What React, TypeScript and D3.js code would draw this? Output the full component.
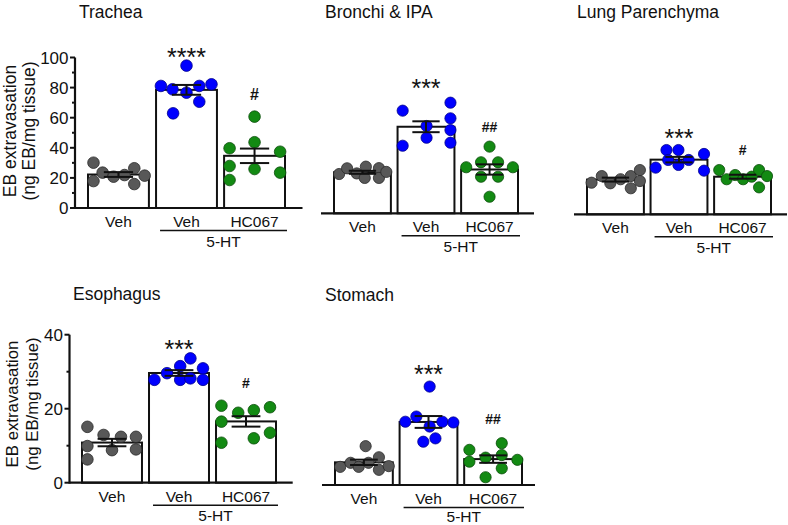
import React from "react";
import * as d3 from "d3";

// ---------- DATA ----------
const groups = ["Veh", "5-HT Veh", "5-HT HC067"];
const groupLabels = ["Veh", "Veh", "HC067"];
const bracketLabel = "5-HT";
const yTitleLine1 = "EB extravasation";
const yTitleLine2 = "(ng EB/mg tissue)";

const panelTitles = ["Trachea", "Bronchi & IPA", "Lung Parenchyma", "Esophagus", "Stomach"];
const starLabels = ["****", "***", "***", "***", "***"];
const hashLabels = ["#", "##", "#", "#", "##"];

const tracheaTicks = [0, 20, 40, 60, 80, 100];
const esophagusTicks = [0, 20, 40];

// Trachea
const tracheaVeh = [30.1, 17.9, 23.5, 20.8, 21.9, 26.4, 15.9, 21.5];
const tracheaVehJit = [-0.41, -0.41, -0.26, -0.08, 0.1, 0.26, 0.26, 0.43];
const trachea5HT = [81.1, 78.9, 62.9, 94.6, 76.6, 81.1, 70.6, 82.2];
const trachea5HTJit = [-0.42, -0.23, -0.22, 0, 0, 0.21, 0.21, 0.41];
const tracheaHC = [39.7, 27.9, 18.6, 60.7, 43.7, 25.9, 37.4, 23.5];
const tracheaHCJit = [-0.41, -0.41, -0.41, 0, 0, 0, 0.42, 0.42];

// Bronchi & IPA
const bronchiVeh = [26.1, 29.9, 26.5, 23.5, 31, 30, 23.5, 27.5];
const bronchiVehJit = [-0.41, -0.27, -0.1, 0.04, 0.06, 0.29, 0.29, 0.42];
const bronchi5HT = [68.2, 44.9, 58, 50.2, 73.5, 63.1, 55.3, 46.9];
const bronchi5HTJit = [-0.41, -0.41, 0.01, 0.01, 0.43, 0.43, 0.43, 0.43];
const bronchiHC = [30.6, 44.3, 33.9, 33.9, 24.3, 24.3, 30.6, 11];
const bronchiHCJit = [-0.41, 0, -0.15, 0.15, -0.15, 0.15, 0.41, 0];

// Lung Parenchyma
const lungVeh = [21, 25.4, 20.6, 23.3, 25.4, 17.3, 29.4, 22.1];
const lungVehJit = [-0.42, -0.24, -0.09, 0.09, 0.27, 0.27, 0.43, 0.43];
const lung5HT = [31, 42.7, 36.1, 42.7, 32.8, 36.1, 40.1, 29];
const lung5HTJit = [-0.41, -0.22, -0.19, -0.01, -0.01, 0.17, 0.44, 0.44];
const lungHC = [29.4, 23.3, 26.1, 23.3, 25, 29.4, 17.9, 25.4];
const lungHCJit = [-0.41, -0.28, -0.13, 0.01, 0.16, 0.29, 0.29, 0.43];

// Esophagus
const esoVeh = [15.1, 9.9, 6.3, 12.9, 8.8, 12.4, 12.4, 9];
const esoVehJit = [-0.41, -0.41, -0.41, -0.14, 0, 0.15, 0.4, 0.4];
const eso5HT = [27.8, 29.6, 31.5, 27.8, 33.6, 28.2, 30.9, 27.8];
const eso5HTJit = [-0.41, -0.2, 0.02, 0.02, 0.19, 0.19, 0.4, 0.4];
const esoHC = [20.8, 16.5, 10.8, 18.9, 19.6, 12, 20.4, 13.5];
const esoHCJit = [-0.41, -0.41, -0.41, -0.13, 0.13, 0.13, 0.4, 0.4];

// Stomach
const stomachVeh = [4.9, 6, 4.9, 10.5, 6, 7.5, 4.1, 5.1];
const stomachVehJit = [-0.41, -0.23, -0.09, 0.03, 0.08, 0.26, 0.26, 0.43];
const stomach5HT = [17.1, 18.5, 11.7, 26.6, 15.8, 12.6, 17.1, 16.9];
const stomach5HTJit = [-0.4, -0.21, -0.09, 0.02, 0.02, 0.12, 0.24, 0.43];
const stomachHC = [9.5, 6.3, 7.4, 2.1, 11.3, 8.1, 4.5, 6.8];
const stomachHCJit = [-0.41, -0.41, -0.13, -0.13, 0.15, 0.15, 0.15, 0.42];

const panelValues = [
  [tracheaVeh, trachea5HT, tracheaHC],
  [bronchiVeh, bronchi5HT, bronchiHC],
  [lungVeh, lung5HT, lungHC],
  [esoVeh, eso5HT, esoHC],
  [stomachVeh, stomach5HT, stomachHC],
];
const panelJitter = [
  [tracheaVehJit, trachea5HTJit, tracheaHCJit],
  [bronchiVehJit, bronchi5HTJit, bronchiHCJit],
  [lungVehJit, lung5HTJit, lungHCJit],
  [esoVehJit, eso5HTJit, esoHCJit],
  [stomachVehJit, stomach5HTJit, stomachHCJit],
];

// ---------- LAYOUT / STYLE ----------
const FONT = "Arial, 'Liberation Sans', Helvetica, sans-serif";
const dotFill = ["#585858", "#0000ff", "#138a13"];
const dotStroke = ["#2a2a2a", "#00008a", "#0a4d0a"];

type Layout = {
  yMax: number; base: number; top: number;
  bars: [number, number]; line: [number, number];
  yAxis: boolean; ticks?: number[]; minorStep?: number;
  title: [number, number]; starTop: number; hashTop: number; hashFs: number;
  yt?: { x1: number; x2: number; cy: number; fs: number };
  r: number;
};

const layouts: Layout[] = [
  { yMax: 100, base: 208, top: 57.5, bars: [88, 285], line: [75, 302.5], yAxis: true, ticks: tracheaTicks, minorStep: 10,
    title: [79, 17.5], starTop: 48, hashTop: 88, hashFs: 16, yt: { x1: 15.5, x2: 34.5, cy: 131, fs: 17.5 }, r: 5.8 },
  { yMax: 100, base: 213.3, top: 62.8, bars: [334, 518], line: [321, 534], yAxis: false,
    title: [325, 17.5], starTop: 79, hashTop: 122, hashFs: 14, r: 5.6 },
  { yMax: 100, base: 214.3, top: 63.8, bars: [587, 771], line: [574, 787], yAxis: false,
    title: [577, 17.5], starTop: 129, hashTop: 145, hashFs: 14, r: 5.6 },
  { yMax: 40, base: 482.7, top: 334.7, bars: [82, 276], line: [69.5, 292.7], yAxis: true, ticks: esophagusTicks, minorStep: 10,
    title: [73, 299.5], starTop: 340, hashTop: 378, hashFs: 14, yt: { x1: 18, x2: 37.5, cy: 404, fs: 16.8 }, r: 5.8 },
  { yMax: 40, base: 485, top: 337, bars: [335, 522], line: [322, 535], yAxis: false,
    title: [325, 301], starTop: 365, hashTop: 414, hashFs: 14, r: 5.6 },
];

function Panel({ idx }: { idx: number }) {
  const L = layouts[idx];
  const values = panelValues[idx];
  const jit = panelJitter[idx];
  const y = d3.scaleLinear().domain([0, L.yMax]).range([L.base, L.top]);
  const x = d3.scaleBand<string>().domain(groups).range(L.bars).paddingInner(0.105).paddingOuter(0);
  const bw = x.bandwidth();
  const cx = (g: string) => (x(g) as number) + bw / 2;
  const stats = values.map((v) => {
    const m = d3.mean(v) as number;
    const sem = (d3.deviation(v) as number) / Math.sqrt(v.length);
    return { m, sem };
  });
  const minorTicks = L.minorStep ? d3.range(L.minorStep, L.yMax, L.minorStep * 2) : [];
  const capHalf = bw * 0.24;
  const labFs = 15.5;
  const ulX1 = (x(groups[1]) as number) + 4;
  const ulX2 = (x(groups[2]) as number) + bw + 2;
  const htY = Math.min(L.base + 38.5, 521.5);

  return (
    <g>
      <text x={L.title[0]} y={L.title[1]} fontSize={17.5} fontFamily={FONT} fill="#111">{panelTitles[idx]}</text>

      {L.yAxis && L.yt && (
        <g fontFamily={FONT} fontSize={L.yt.fs} fill="#111" textAnchor="middle">
          <text transform={`translate(${L.yt.x1},${L.yt.cy}) rotate(-90)`}>{yTitleLine1}</text>
          <text transform={`translate(${L.yt.x2},${L.yt.cy}) rotate(-90)`}>{yTitleLine2}</text>
        </g>
      )}

      {/* bars */}
      {groups.map((g, i) => (
        <rect key={g} x={x(g)} y={y(stats[i].m)} width={bw} height={L.base - y(stats[i].m)}
          fill="#fff" stroke="#111" strokeWidth={2} />
      ))}

      {/* dots */}
      {groups.map((g, i) =>
        values[i].map((v, k) => (
          <circle key={g + k} cx={cx(g) + jit[i][k] * bw} cy={y(v)} r={L.r}
            fill={dotFill[i]} stroke={dotStroke[i]} strokeWidth={0.8} />
        ))
      )}

      {/* error bars */}
      {groups.map((g, i) => {
        const c = cx(g);
        const hi = y(stats[i].m + stats[i].sem);
        const lo = y(stats[i].m - stats[i].sem);
        return (
          <g key={"e" + g} stroke="#111" strokeWidth={2}>
            <line x1={c} x2={c} y1={hi} y2={lo} />
            <line x1={c - capHalf} x2={c + capHalf} y1={hi} y2={hi} />
            <line x1={c - capHalf} x2={c + capHalf} y1={lo} y2={lo} />
          </g>
        );
      })}

      {/* x axis line */}
      <line x1={L.line[0]} x2={L.line[1]} y1={L.base} y2={L.base} stroke="#111" strokeWidth={2.2} />

      {/* y axis */}
      {L.yAxis && L.ticks && (
        <g>
          <line x1={L.line[0]} x2={L.line[0]} y1={L.base + 1} y2={y(L.yMax)} stroke="#111" strokeWidth={2.2} />
          {L.ticks.map((t) => (
            <g key={t}>
              <line x1={L.line[0] - 5} x2={L.line[0]} y1={y(t)} y2={y(t)} stroke="#111" strokeWidth={2} />
              <text x={L.line[0] - 6.5} y={y(t)} dy="0.36em" textAnchor="end" fontSize={17} fontFamily={FONT} fill="#111">{t}</text>
            </g>
          ))}
          {minorTicks.map((t) => (
            <line key={"m" + t} x1={L.line[0] - 3} x2={L.line[0]} y1={y(t)} y2={y(t)} stroke="#111" strokeWidth={2} />
          ))}
        </g>
      )}

      {/* group labels */}
      {groups.map((g, i) => (
        <text key={"l" + g} x={cx(g)} y={L.base + 19} textAnchor="middle" fontSize={labFs} fontFamily={FONT} fill="#111">{groupLabels[i]}</text>
      ))}
      <line x1={ulX1} x2={ulX2} y1={L.base + 22.5} y2={L.base + 22.5} stroke="#111" strokeWidth={1.5} />
      <text x={(ulX1 + ulX2) / 2} y={htY} textAnchor="middle"
        fontSize={labFs} fontFamily={FONT} fill="#111">{bracketLabel}</text>

      {/* significance */}
      <text x={cx(groups[1])} y={L.starTop + 17.9} textAnchor="middle" fontSize={25} fontFamily={FONT} fill="#111">{starLabels[idx]}</text>
      <text x={cx(groups[2])} y={L.hashTop + L.hashFs * 0.72} textAnchor="middle" fontSize={L.hashFs} fontWeight="bold" fontFamily={FONT} fill="#111">{hashLabels[idx]}</text>
    </g>
  );
}

export default function App() {
  return (
    <svg width={788} height={525} viewBox="0 0 788 525"
      style={{ position: "absolute", left: 0, top: 0, background: "#fff" }}>
      <rect x={0} y={0} width={788} height={525} fill="#fff" />
      {layouts.map((_, i) => (
        <Panel key={i} idx={i} />
      ))}
    </svg>
  );
}
